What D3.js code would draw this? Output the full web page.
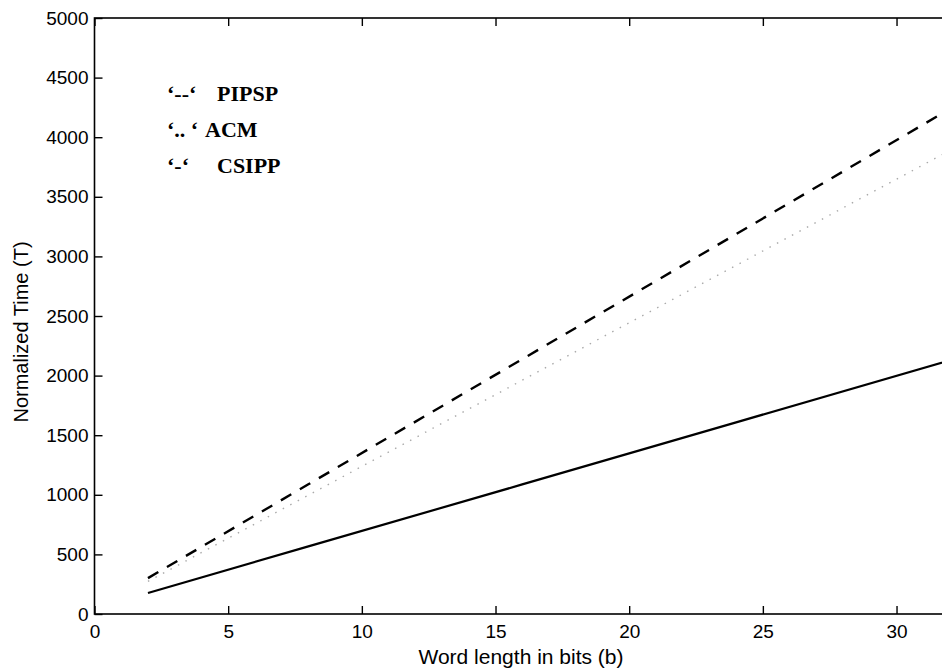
<!DOCTYPE html>
<html>
<head>
<meta charset="utf-8">
<script src="https://cdn.jsdelivr.net/npm/d3@7"></script>
<style>
  html, body { margin: 0; padding: 0; background: #fff; }
  svg { display: block; }
  .tick text { font-family: "Liberation Sans", Arial, sans-serif; font-size: 19px; fill: #000; }
</style>
</head>
<body>
<svg id="chart" width="942" height="672"></svg>
<script>
// ---- data ----
const wordLength = [2, 8, 16, 24, 32];
const pipsp = [301, 1088, 2138, 3187, 4238];
const acm   = [274, 997, 1961, 2925, 3889];
const csipp = [176, 567, 1087, 1608, 2129];
const xTicks = [0, 5, 10, 15, 20, 25, 30];
const yTicks = [0, 500, 1000, 1500, 2000, 2500, 3000, 3500, 4000, 4500, 5000];
const legendKeys = ["\u2018--\u2018", "\u2018.. \u2018", "\u2018-\u2018"];
const legendNames = ["PIPSP", "ACM", "CSIPP"];

// ---- layout ----
const svg = d3.select("#chart");
const L = 94.5, R = 950, T = 18, B = 614;
const x = d3.scaleLinear().domain([0, 32]).range([L, R]);
const y = d3.scaleLinear().domain([0, 5000]).range([B, T]);

// frame
svg.append("rect").attr("x", L).attr("y", T).attr("width", R - L).attr("height", B - T)
  .attr("fill", "none").attr("stroke", "#000").attr("stroke-width", 1.6);

// axes
const tickLen = 8;
const gx = svg.append("g").attr("transform", `translate(0,${B})`)
  .call(d3.axisBottom(x).tickValues(xTicks).tickSize(-tickLen).tickPadding(11).tickFormat(d3.format("d")));
const gxTop = svg.append("g").attr("transform", `translate(0,${T})`)
  .call(d3.axisTop(x).tickValues(xTicks).tickSize(-tickLen).tickFormat(""));
const gy = svg.append("g").attr("transform", `translate(${L},0)`)
  .call(d3.axisLeft(y).tickValues(yTicks).tickSize(-tickLen).tickPadding(6).tickFormat(d3.format("d")));
const gyR = svg.append("g").attr("transform", `translate(${R},0)`)
  .call(d3.axisRight(y).tickValues(yTicks).tickSize(-tickLen).tickFormat(""));
[gx, gxTop, gy, gyR].forEach(g => {
  g.select(".domain").remove();
  g.selectAll(".tick line").attr("stroke", "#000").attr("stroke-width", 1.4);
});
gx.selectAll(".tick text").attr("dy", "0.71em");

// axis titles
svg.append("text").attr("x", 521).attr("y", 664)
  .attr("text-anchor", "middle")
  .style("font-family", "'Liberation Sans', Arial, sans-serif").style("font-size", "21px")
  .text("Word length in bits (b)");
svg.append("text").attr("transform", `translate(28,332) rotate(-90)`)
  .attr("text-anchor", "middle")
  .style("font-family", "'Liberation Sans', Arial, sans-serif").style("font-size", "20px")
  .text("Normalized Time (T)");

// lines
const line = d3.line().x((d, i) => x(wordLength[i])).y(d => y(d));
svg.append("path").datum(acm).attr("d", line)
  .attr("fill", "none").attr("stroke", "#aaa").attr("stroke-width", 1.4)
  .attr("stroke-dasharray", "1.5,7");
svg.append("path").datum(pipsp).attr("d", line)
  .attr("fill", "none").attr("stroke", "#000").attr("stroke-width", 2.4)
  .attr("stroke-dasharray", "12,10");
svg.append("path").datum(csipp).attr("d", line)
  .attr("fill", "none").attr("stroke", "#000").attr("stroke-width", 2.2);

// legend
const lg = svg.append("g")
  .style("font-family", "'Liberation Serif', 'Times New Roman', serif")
  .style("font-weight", "bold").style("font-size", "22px");
legendKeys.forEach((k, i) => {
  lg.append("text").attr("x", 167).attr("y", 101 + i * 36).attr("xml:space", "preserve").text(k);
  lg.append("text").attr("x", i === 1 ? 205 : 217).attr("y", 101 + i * 36).text(legendNames[i]);
});
</script>
</body>
</html>
